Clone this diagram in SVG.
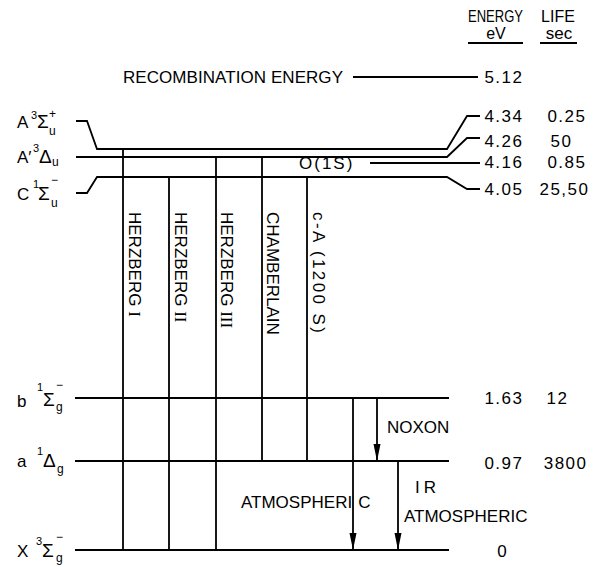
<svg xmlns="http://www.w3.org/2000/svg" width="607" height="567" viewBox="0 0 607 567">
<style>
.t{font-family:"Liberation Sans",Arial,sans-serif;font-size:17px;fill:#000}
.h{font-size:16px}
.n{letter-spacing:1.5px;text-anchor:end}
.sy{font-size:19px}
.sp{font-size:11px}
.sb{font-size:12px}
.rn{font-family:"Liberation Serif","Times New Roman",serif}
.ln{stroke:#000;stroke-width:1.8;fill:none}
.ar{stroke:#000;stroke-width:1.8;fill:none;marker-end:url(#ah)}
</style>
<defs>
<marker id="ah" markerWidth="18" markerHeight="8" refX="17" refY="3.5" orient="auto" markerUnits="userSpaceOnUse">
<path d="M0,0 L17,3.5 L0,7 z" fill="#000"/>
</marker>
</defs>
<rect width="607" height="567" fill="#fff"/>

<g id="header">
<text class="t h" x="468" y="22" textLength="55" lengthAdjust="spacingAndGlyphs">ENERGY</text>
<text class="t h" x="541" y="22" textLength="34">LIFE</text>
<text class="t h" x="496" y="39" text-anchor="middle">eV</text>
<text class="t" x="559" y="39" text-anchor="middle">sec</text>
<path class="ln" d="M468,43H523M540,43H577" stroke-width="1.3"/>
</g>

<g id="recombination">
<text class="t" x="123" y="83" textLength="220">RECOMBINATION ENERGY</text>
<path class="ln" d="M353,77H478"/>
<text class="t n" x="523.5" y="83">5.12</text>
</g>

<g id="state-A3Su">
<text class="t" x="17" y="128">A</text>
<text class="t sp" x="31" y="119">3</text>
<text class="t sy" x="37" y="128">Σ</text>
<text class="t sb" x="49" y="118">+</text>
<text class="t sb" x="49" y="135">u</text>
<path class="ln" d="M76,121H87L97,149H447L467,116H480"/>
<text class="t n" x="523.5" y="122">4.34</text>
<text class="t n" x="586.5" y="122">0.25</text>
</g>

<g id="state-A3Du">
<text class="t" x="17" y="163">A′</text>
<text class="t sp" x="33" y="152">3</text>
<text class="t sy" x="39" y="163">Δ</text>
<text class="t sb" x="52" y="166">u</text>
<path class="ln" d="M76,157H447L467,138H480"/>
<text class="t n" x="523.5" y="147">4.26</text>
<text class="t n" x="572.5" y="147">50</text>
</g>

<g id="state-O1S">
<text class="t" x="299" y="169" font-size="18" letter-spacing="2">O(1S)</text>
<path class="ln" d="M370,163H480"/>
<text class="t n" x="523.5" y="168">4.16</text>
<text class="t n" x="586.5" y="168">0.85</text>
</g>

<g id="state-C1Su">
<text class="t" x="17" y="200">C</text>
<text class="t sp" x="33" y="188">1</text>
<text class="t sy" x="38" y="200">Σ</text>
<text class="t sb" x="51" y="184">−</text>
<text class="t sb" x="51" y="207">u</text>
<path class="ln" d="M76,193H87L97,177H447L467,189H480"/>
<text class="t n" x="523.5" y="195">4.05</text>
<text class="t n" x="589.5" y="195">25,50</text>
</g>

<g id="state-b1Sg">
<text class="t" x="17" y="407">b</text>
<text class="t sp" x="37" y="391">1</text>
<text class="t sy" x="43" y="406">Σ</text>
<text class="t sb" x="56" y="389">−</text>
<text class="t sb" x="56" y="411">g</text>
<path class="ln" d="M75,398H449"/>
<text class="t n" x="523.5" y="404">1.63</text>
<text class="t n" x="568.5" y="404">12</text>
</g>

<g id="state-a1Dg">
<text class="t" x="17" y="467">a</text>
<text class="t sp" x="37" y="455">1</text>
<text class="t sy" x="43" y="467">Δ</text>
<text class="t sb" x="57" y="473">g</text>
<path class="ln" d="M75,461H449"/>
<text class="t n" x="523.5" y="469">0.97</text>
<text class="t n" x="587.5" y="469">3800</text>
</g>

<g id="state-X3Sg">
<text class="t" x="17" y="557">X</text>
<text class="t sp" x="36" y="545">3</text>
<text class="t sy" x="42" y="557">Σ</text>
<text class="t sb" x="56" y="541">−</text>
<text class="t sb" x="56" y="562">g</text>
<path class="ln" d="M75,550H449"/>
<text class="t" x="502" y="557" text-anchor="middle">0</text>
</g>

<g id="connectors">
<path class="ln" d="M123,149V550M169,177V550M216,157V550M262,157V461M307,177V461"/>
<path class="ar" d="M353,398V550"/>
<path class="ar" d="M377,398V461"/>
<path class="ar" d="M398,461V550"/>
</g>

<g id="labels">
<text class="t" transform="translate(129,212) rotate(90)">HERZBERG <tspan class="rn">I</tspan></text>
<text class="t" transform="translate(175,212) rotate(90)">HERZBERG <tspan class="rn">II</tspan></text>
<text class="t" transform="translate(221,212) rotate(90)">HERZBERG <tspan class="rn">III</tspan></text>
<text class="t" transform="translate(267,212) rotate(90)">CHAMBERLAIN</text>
<text class="t" transform="translate(313,212) rotate(90)" font-size="18" textLength="121">c-A (1200 S)</text>
<text class="t" x="387" y="433" font-size="16">NOXON</text>
<text class="t" x="241" y="508" font-size="16.5">ATMOSPHERI<tspan dx="6">C</tspan></text>
<text class="t" x="415" y="493" letter-spacing="4">IR</text>
<text class="t" x="404" y="522" font-size="16.2">ATMOSPHERIC</text>
</g>
</svg>
